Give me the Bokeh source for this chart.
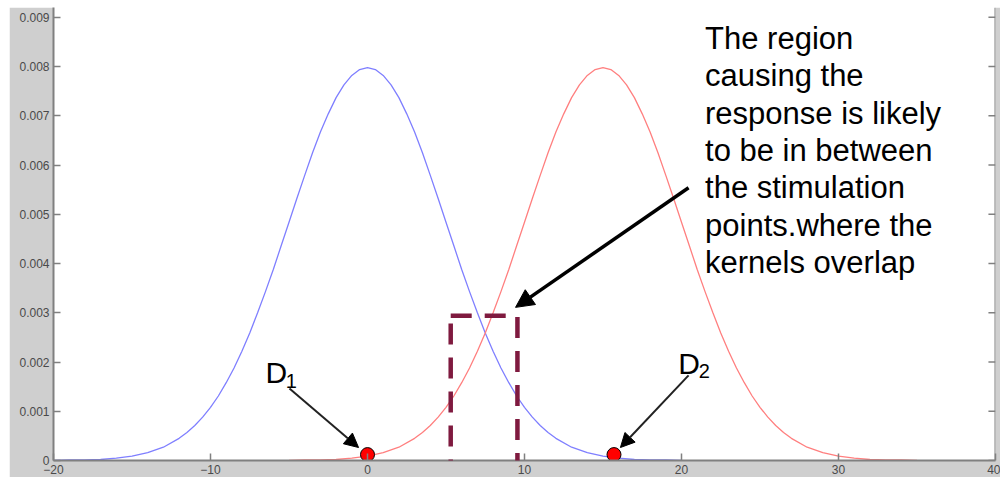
from bokeh.plotting import figure
from bokeh.models import (FixedTicker, Range1d, Arrow, NormalHead,
                          BoxAnnotation, Span)
from bokeh.core.properties import value
from bokeh.embed import file_html
from bokeh.resources import INLINE

# ---------------- data ----------------
x_ticks = [-20, -10, 0, 10, 20, 30, 40]
y_ticks = [0, 0.001, 0.002, 0.003, 0.004, 0.005, 0.006, 0.007, 0.008, 0.009]
y_tick_labels = ["0", "0.001", "0.002", "0.003", "0.004", "0.005",
                 "0.006", "0.007", "0.008", "0.009"]

blue_x = [-20, -19, -18, -17, -16, -15, -14, -13, -12,
          -11.5, -11, -10.5, -10, -9.5, -9, -8.5, -8, -7.5, -7, -6.5, -6,
          -5.5, -5, -4.5, -4, -3.5, -3, -2.5, -2, -1.5, -1, -0.5, 0,
          0.5, 1, 1.5, 2, 2.5, 3, 3.5, 4, 4.5, 5, 5.5, 6, 6.5, 7, 7.5, 8,
          8.5, 9, 9.5, 10, 10.5, 11, 11.5,
          12, 13, 14, 15, 16, 17, 18, 19, 20]
blue_y = [0.00000, 0.00001, 0.00001, 0.00002, 0.00005, 0.00009, 0.00016,
          0.00027, 0.00045,
          0.00057, 0.00071, 0.00088, 0.00108, 0.00131, 0.00158, 0.00188,
          0.00222, 0.00259, 0.00300, 0.00343, 0.00388, 0.00436, 0.00484,
          0.00532, 0.00579, 0.00625, 0.00667, 0.00704, 0.00737, 0.00763,
          0.00782, 0.00794, 0.00798,
          0.00794, 0.00782, 0.00763, 0.00737, 0.00704, 0.00667, 0.00625,
          0.00579, 0.00532, 0.00484, 0.00436, 0.00388, 0.00343, 0.00300,
          0.00259, 0.00222, 0.00188, 0.00158, 0.00131, 0.00108, 0.00088,
          0.00071, 0.00057,
          0.00045, 0.00027, 0.00016, 0.00009, 0.00005, 0.00002, 0.00001,
          0.00001, 0.00000]

red_x = [-5, -4, -3, -2, -1, 0, 1, 2, 3,
         3.5, 4, 4.5, 5, 5.5, 6, 6.5, 7, 7.5, 8, 8.5, 9,
         9.5, 10, 10.5, 11, 11.5, 12, 12.5, 13, 13.5, 14, 14.5, 15,
         15.5, 16, 16.5, 17, 17.5, 18, 18.5, 19, 19.5, 20, 20.5, 21, 21.5,
         22, 22.5, 23, 23.5, 24, 24.5, 25, 25.5, 26, 26.5,
         27, 28, 29, 30, 31, 32, 33, 34, 35]
red_y = [0.00000, 0.00001, 0.00001, 0.00002, 0.00005, 0.00009, 0.00016,
         0.00027, 0.00045,
         0.00057, 0.00071, 0.00088, 0.00108, 0.00131, 0.00158, 0.00188,
         0.00222, 0.00259, 0.00300, 0.00343, 0.00388, 0.00436, 0.00484,
         0.00532, 0.00579, 0.00625, 0.00667, 0.00704, 0.00737, 0.00763,
         0.00782, 0.00794, 0.00798,
         0.00794, 0.00782, 0.00763, 0.00737, 0.00704, 0.00667, 0.00625,
         0.00579, 0.00532, 0.00484, 0.00436, 0.00388, 0.00343, 0.00300,
         0.00259, 0.00222, 0.00188, 0.00158, 0.00131, 0.00108, 0.00088,
         0.00071, 0.00057,
         0.00045, 0.00027, 0.00016, 0.00009, 0.00005, 0.00002, 0.00001,
         0.00001, 0.00000]

# stimulation points
stim_x = [0, 15.7]
stim_y = [0.00012, 0.00012]

# overlap region (dashed box)
box_left, box_right, box_bottom, box_top = 5.3, 9.55, -0.00014, 0.00294

# annotation text
note_lines = ["The region", "causing the", "response is likely",
              "to be in between", "the stimulation", "points.where the",
              "kernels overlap"]
note_x = 21.5
note_y = [0.00857, 0.00781, 0.00705, 0.00629, 0.00554, 0.00478, 0.00402]

# ---------------- figure ----------------
GRAY = "#cfcfcf"
AXIS = "#808080"
FONT = "Liberation Sans"

p = figure(width=991, height=470, output_backend="svg", toolbar_location=None,
           x_range=Range1d(-20, 40), y_range=Range1d(0, 0.0092),
           min_border_left=44, min_border_right=5, min_border_top=0,
           min_border_bottom=17)
p.margin = (7, 0, 0, 9)
p.border_fill_color = GRAY
p.background_fill_color = "white"
p.outline_line_color = None
p.xgrid.visible = False
p.ygrid.visible = False

xa = p.xaxis[0]
xa.ticker = FixedTicker(ticks=x_ticks)
ya = p.yaxis[0]
ya.ticker = FixedTicker(ticks=y_ticks)
ya.major_label_overrides = {t: l for t, l in zip(y_ticks, y_tick_labels)}
for ax in (xa, ya):
    ax.axis_line_color = AXIS
    ax.axis_line_width = 2
    ax.major_tick_line_color = AXIS
    ax.major_tick_line_width = 1.5
    ax.major_tick_in = 7
    ax.major_tick_out = 0
    ax.minor_tick_line_color = None
    ax.major_label_text_font = FONT
    ax.major_label_text_font_size = "12px"
    ax.major_label_text_color = "#4a4a4a"
    ax.major_label_standoff = 4
xa.major_label_standoff = 4

# right-hand frame edge with inward ticks
p.add_layout(Span(location=40, dimension="height", line_color=AXIS,
                  line_width=2))
p.segment(x0=[40] * len(y_ticks), y0=y_ticks, x1=[39.55] * len(y_ticks),
          y1=y_ticks, line_color=AXIS, line_width=1.5)

# curves
p.line(blue_x, blue_y, line_color="#7f7fff", line_width=1.3)
p.line(red_x, red_y, line_color="#ff7f7f", line_width=1.3)

# dashed overlap box
p.add_layout(BoxAnnotation(left=box_left, right=box_right, bottom=box_bottom,
                           top=box_top, fill_alpha=0, line_color="#7f1a3f",
                           line_alpha=1, line_width=4.5, line_dash="21 13"))

# arrows
p.add_layout(Arrow(x_start=-4.97, y_start=0.00146, x_end=-0.57, y_end=0.000264,
                   line_color="#222222", line_width=2,
                   end=NormalHead(size=14, fill_color="black", line_color="black")))
p.add_layout(Arrow(x_start=20.45, y_start=0.00173, x_end=16.11, y_end=0.000264,
                   line_color="#222222", line_width=2,
                   end=NormalHead(size=14, fill_color="black", line_color="black")))
p.add_layout(Arrow(x_start=20.45, y_start=0.00554, x_end=9.43, y_end=0.00311,
                   line_color="black", line_width=3.5,
                   end=NormalHead(size=18, fill_color="black", line_color="black")))

# stimulation points
p.scatter(stim_x, stim_y, size=14, fill_color="#ff0000", line_color="black",
          line_width=1)

# D labels
p.text(x=[-6.5, 19.8], y=[0.00179, 0.00197], text=["D", "D"],
       text_font=value(FONT), text_font_size="30px", text_color="black",
       text_baseline="alphabetic", text_align="left")
p.text(x=[-5.2, 21.1], y=[0.00162, 0.00181], text=["1", "2"],
       text_font=value(FONT), text_font_size="20px", text_color="black",
       text_baseline="alphabetic", text_align="left")

# note
p.text(x=[note_x] * len(note_lines), y=note_y, text=note_lines,
       text_font=value(FONT), text_font_size="31px", text_color="black",
       text_baseline="alphabetic", text_align="left")

open("out.html", "w").write(file_html(p, INLINE))
